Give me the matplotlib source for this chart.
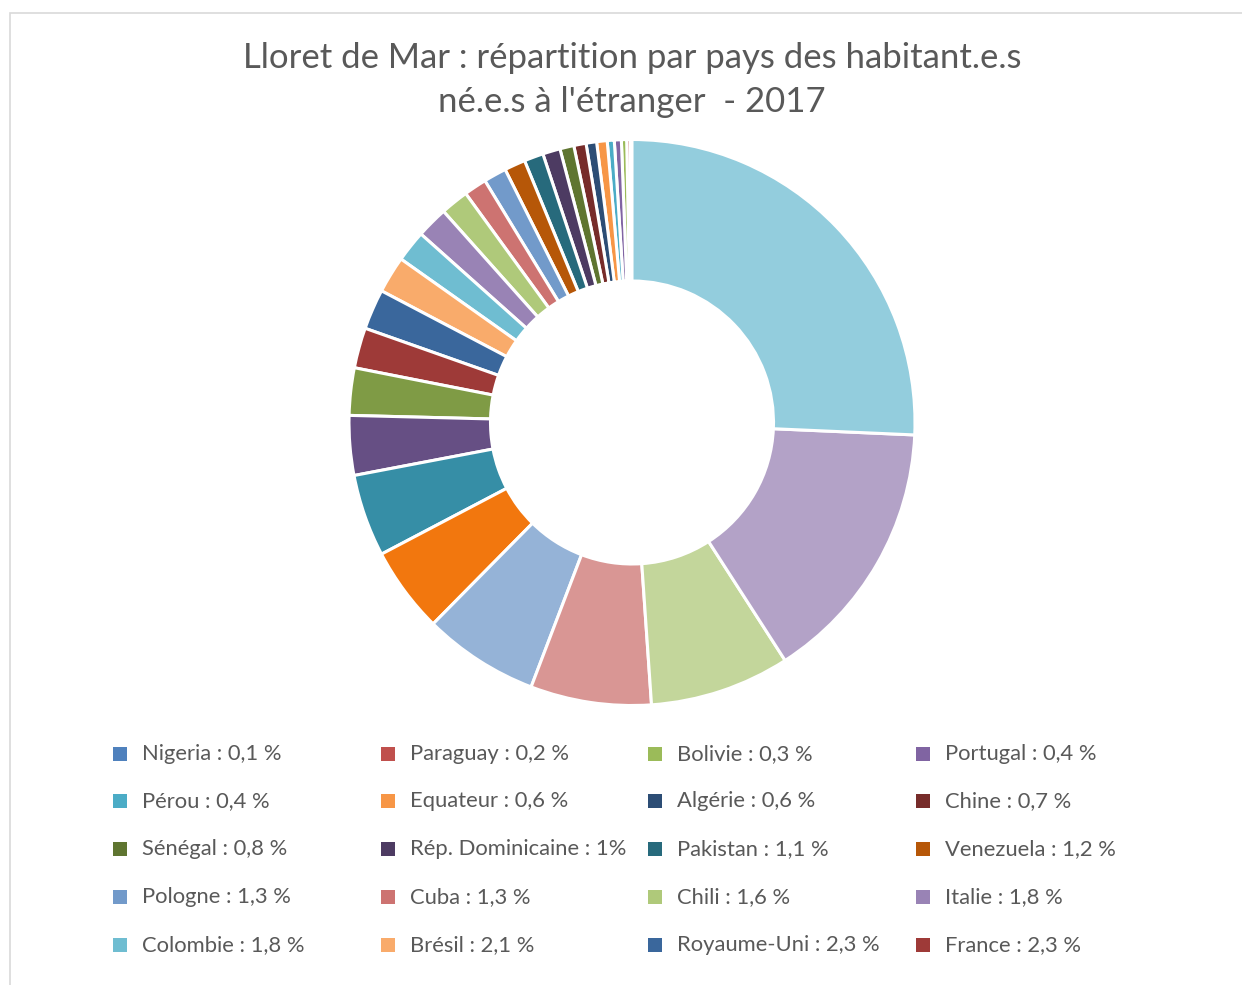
import matplotlib
matplotlib.use("Agg")
import matplotlib.pyplot as plt
from matplotlib.patches import Rectangle

# ---- data (ascending order, as in the source spreadsheet) ----
countries = ["Nigeria", "Paraguay", "Bolivie", "Portugal", "Pérou", "Equateur",
             "Algérie", "Chine", "Sénégal", "Rép. Dominicaine", "Pakistan", "Venezuela",
             "Pologne", "Cuba", "Chili", "Italie", "Colombie", "Brésil",
             "Royaume-Uni", "France",
             # larger groups whose legend entries are cut off in the source
             "Pays 21", "Pays 22", "Pays 23", "Pays 24", "Pays 25",
             "Pays 26", "Pays 27", "Pays 28", "Pays 29"]
shares = [0.1, 0.2, 0.3, 0.4, 0.4, 0.6, 0.6, 0.7, 0.8, 1.0, 1.1, 1.2,
          1.3, 1.3, 1.6, 1.8, 1.8, 2.1, 2.3, 2.3,
          2.7, 3.4, 4.7, 4.9, 6.6, 6.9, 8.0, 15.2, 25.7]
legend_labels = ["Nigeria : 0,1 %", "Paraguay : 0,2 %", "Bolivie : 0,3 %", "Portugal : 0,4 %",
                 "Pérou : 0,4 %", "Equateur : 0,6 %", "Algérie : 0,6 %", "Chine : 0,7 %",
                 "Sénégal : 0,8 %", "Rép. Dominicaine : 1%", "Pakistan : 1,1 %", "Venezuela : 1,2 %",
                 "Pologne : 1,3 %", "Cuba : 1,3 %", "Chili : 1,6 %", "Italie : 1,8 %",
                 "Colombie : 1,8 %", "Brésil : 2,1 %", "Royaume-Uni : 2,3 %", "France : 2,3 %"]
colors = ["#4F81BD", "#C0504D", "#9BBB59", "#8064A2", "#4BACC6", "#F79646",
          "#2C4D75", "#772C2A", "#5F7530", "#4D3B62", "#276A7C", "#B65708",
          "#729ACA", "#CD7371", "#AFC97A", "#9983B5", "#6FBDD1", "#F9AB6B",
          "#3A679C", "#9E3A38", "#7F9B45", "#664F84", "#368EA6", "#F2770E",
          "#95B3D7", "#D99694", "#C3D69B", "#B3A2C7", "#93CDDD"]

title = "Lloret de Mar : répartition par pays des habitant.e.s\nné.e.s à l'étranger  - 2017"

W, H = 1242, 985
plt.rcParams["font.family"] = ["Lato", "DejaVu Sans"]
fig = plt.figure(figsize=(W / 100, H / 100), dpi=100)
fig.patch.set_facecolor("white")

# chart frame
fig.patches.append(Rectangle((10 / W, -0.05), 1.2, 1 - 13 / H + 0.05,
                             transform=fig.transFigure, facecolor="none",
                             edgecolor="#D9D9D9", linewidth=1.2, zorder=-1))

# donut
cx, cy, R = 632, 422.5, 283
ax = fig.add_axes([(cx - R) / W, 1 - (cy + R) / H, 2 * R / W, 2 * R / H])
ax.pie(shares, colors=colors, startangle=90, counterclock=True, radius=1,
       wedgeprops=dict(width=0.5, edgecolor="white", linewidth=2.2))
ax.set_xlim(-1, 1)
ax.set_ylim(-1, 1)
ax.set_aspect("equal")
ax.axis("off")

# title
fig.text(cx / W, 1 - 80 / H, title, ha="center", va="center", fontsize=25,
         color="#595959", linespacing=1.45)

# legend (4 columns, row-major)
col_x = [120, 388, 655, 923]
row_y = [754, 801, 849, 897, 945]
sq = 14
for i, lab in enumerate(legend_labels):
    r, c = divmod(i, 4)
    x, y = col_x[c], row_y[r]
    fig.patches.append(Rectangle(((x - sq / 2) / W, 1 - (y + sq / 2) / H), sq / W, sq / H,
                                 transform=fig.transFigure, facecolor=colors[i],
                                 edgecolor="none", zorder=2))
    fig.text((x + 22) / W, 1 - y / H, lab, ha="left", va="center",
             fontsize=15.8, color="#595959")

fig.savefig("out.png", dpi=100)
